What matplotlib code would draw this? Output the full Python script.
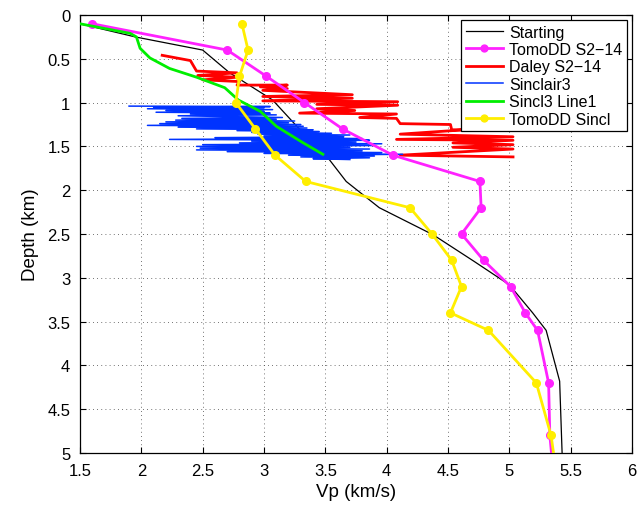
import matplotlib
matplotlib.use("Agg")
import matplotlib.pyplot as plt
import numpy as np

plt.rcParams['font.family'] = ['Liberation Sans', 'DejaVu Sans']

# Starting model
start_vp = [1.5, 1.95, 2.5, 2.72, 3.07, 3.32, 3.51, 3.67, 3.94, 4.38, 4.71, 5.0, 5.19, 5.30, 5.41, 5.43]
start_z = [0.1, 0.25, 0.4, 0.66, 0.97, 1.35, 1.61, 1.9, 2.2, 2.51, 2.81, 3.08, 3.4, 3.6, 4.18, 5.0]

# TomoDD S2-14
tdd_vp = [1.6, 2.7, 3.02, 3.33, 3.64, 4.05, 4.76, 4.77, 4.61, 4.79, 5.01, 5.13, 5.23, 5.32, 5.33, 5.37]
tdd_z = [0.1, 0.4, 0.7, 1.0, 1.3, 1.6, 1.9, 2.2, 2.5, 2.8, 3.1, 3.4, 3.6, 4.2, 4.8, 5.4]

# Daley S2-14
daley_vp = [2.17, 2.40, 2.45, 2.78, 2.46, 2.78, 2.50, 2.80, 2.78, 3.19, 2.97, 3.19, 2.99, 3.72,
            2.99, 3.72, 2.99, 4.09, 3.43, 4.09, 3.43, 3.74, 3.29, 4.08, 3.78, 4.08, 4.11, 4.52,
            4.53, 4.64, 4.11, 5.03, 4.08, 5.03, 4.54, 5.03, 4.54, 5.03, 4.11, 5.03]
daley_z = [0.46, 0.52, 0.64, 0.66, 0.69, 0.71, 0.74, 0.76, 0.80, 0.80, 0.82, 0.84, 0.86, 0.91,
           0.93, 0.95, 0.98, 0.99, 1.02, 1.03, 1.07, 1.09, 1.12, 1.13, 1.17, 1.18, 1.24, 1.25,
           1.31, 1.31, 1.36, 1.39, 1.42, 1.43, 1.46, 1.48, 1.51, 1.53, 1.60, 1.62]

# Sinclair3 log
sinc_vp = [1.90, 3.05, 2.10, 3.00, 2.05, 3.07, 2.20, 3.00, 2.12, 3.05, 2.40, 3.10, 2.30, 3.15,
           2.33, 3.10, 2.28, 3.25, 2.20, 3.20, 2.15, 3.30, 2.05, 3.32, 2.30, 3.35, 2.45, 3.40,
           2.78, 3.45, 2.90, 3.55, 2.95, 3.70, 3.00, 3.65, 2.60, 3.80, 2.23, 3.86, 2.90, 3.75,
           2.80, 3.96, 2.50, 3.90, 2.45, 3.70, 2.48, 3.86, 2.45, 3.80, 2.70, 3.96, 3.00, 4.13,
           3.20, 3.90, 3.30, 3.86, 3.40, 3.70]
sinc_z = [1.04, 1.045, 1.05, 1.06, 1.07, 1.08, 1.09, 1.10, 1.11, 1.12, 1.13, 1.14, 1.15, 1.17,
          1.18, 1.19, 1.20, 1.21, 1.22, 1.23, 1.24, 1.25, 1.26, 1.27, 1.28, 1.29, 1.30, 1.31,
          1.32, 1.33, 1.34, 1.35, 1.36, 1.37, 1.38, 1.39, 1.40, 1.41, 1.42, 1.43, 1.44, 1.45,
          1.46, 1.47, 1.48, 1.49, 1.50, 1.51, 1.52, 1.53, 1.54, 1.55, 1.56, 1.57, 1.58, 1.59,
          1.60, 1.61, 1.62, 1.63, 1.64, 1.65]

# Sincl3 Line1
line1_vp = [1.5, 1.91, 1.96, 1.99, 2.07, 2.23, 2.45, 2.68, 2.79, 2.97, 3.10, 3.32, 3.48]
line1_z = [0.1, 0.21, 0.25, 0.38, 0.49, 0.61, 0.71, 0.83, 0.97, 1.10, 1.27, 1.46, 1.59]

# TomoDD Sincl
tsin_vp = [2.82, 2.87, 2.80, 2.77, 2.93, 3.09, 3.34, 4.19, 4.37, 4.53, 4.61, 4.52, 4.83, 5.22, 5.34, 5.40]
tsin_z = [0.1, 0.4, 0.7, 1.0, 1.3, 1.6, 1.9, 2.2, 2.5, 2.8, 3.1, 3.4, 3.6, 4.2, 4.8, 5.4]

xticks = [1.5, 2, 2.5, 3, 3.5, 4, 4.5, 5, 5.5, 6]
xticklabels = ['1.5', '2', '2.5', '3', '3.5', '4', '4.5', '5', '5.5', '6']
yticks = [0, 0.5, 1, 1.5, 2, 2.5, 3, 3.5, 4, 4.5, 5]
yticklabels = ['0', '0.5', '1', '1.5', '2', '2.5', '3', '3.5', '4', '4.5', '5']

fig = plt.figure(figsize=(6.41, 5.10), dpi=100)
ax = fig.add_axes([0.1248, 0.1098, 0.8612, 0.8588])

ax.plot(start_vp, start_z, color='black', lw=0.9, label='Starting', zorder=3)
ax.plot(daley_vp, daley_z, color='#ff0000', lw=2.0, label='Daley S2\u221214', zorder=4)
ax.plot(tdd_vp, tdd_z, color='#ff22ff', lw=2.0, marker='o', ms=5.5, label='TomoDD S2\u221214', zorder=5)
ax.plot(sinc_vp, sinc_z, color='#0033ff', lw=1.1, label='Sinclair3', zorder=4)
ax.plot(line1_vp, line1_z, color='#00ee00', lw=2.0, label='Sincl3 Line1', zorder=6)
ax.plot(tsin_vp, tsin_z, color='#ffee00', lw=2.0, marker='o', ms=5.5, label='TomoDD Sincl', zorder=7)

ax.set_xlim(1.5, 6)
ax.set_ylim(5, 0)
ax.set_xticks(xticks)
ax.set_xticklabels(xticklabels)
ax.set_yticks(yticks)
ax.set_yticklabels(yticklabels)
ax.tick_params(direction='in', top=True, right=True, labelsize=12, length=4)
ax.tick_params(axis='x', pad=7)
ax.tick_params(axis='y', pad=7)
ax.grid(True, linestyle=(0, (1, 4)), color='#444444', lw=0.6)
for s in ax.spines.values():
    s.set_linewidth(0.9)
ax.set_xlabel('Vp (km/s)', fontsize=13.5, labelpad=4)
ax.set_ylabel('Depth (km)', fontsize=13.5, labelpad=6)

handles, labels = ax.get_legend_handles_labels()
order = ['Starting', 'TomoDD S2\u221214', 'Daley S2\u221214', 'Sinclair3', 'Sincl3 Line1', 'TomoDD Sincl']
hl = dict(zip(labels, handles))
leg = ax.legend([hl[o] for o in order], order, loc='upper right', fontsize=11.5,
                fancybox=False, framealpha=1, edgecolor='black', borderpad=0.3,
                labelspacing=0.15, handlelength=2.3, handletextpad=0.4, markerscale=0.9,
                borderaxespad=0.3)
leg.get_frame().set_linewidth(0.9)

fig.savefig('out.png', dpi=100)
